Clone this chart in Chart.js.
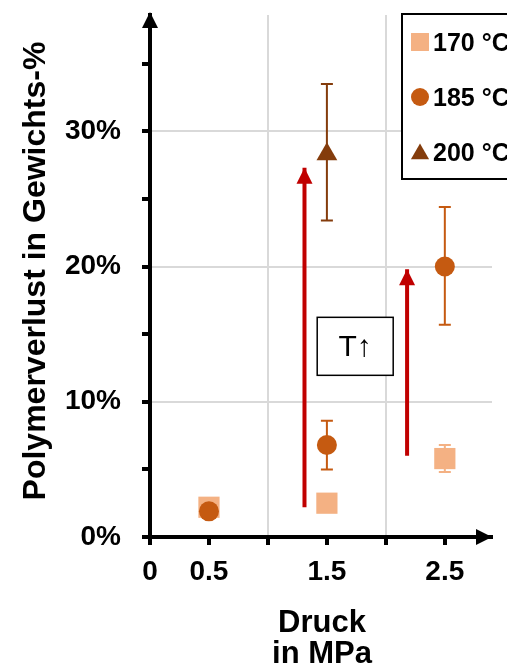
<html>

<head>
    <title>Polymerverlust</title>
    <script src="https://cdn.jsdelivr.net/npm/chart.js@4.4.1/dist/chart.umd.min.js"></script>
</head>

<body style="margin: 0;background: #fff;">
    <canvas id="lossChart" width="507" height="669"></canvas>

    <script>
        // Druck in MPa
        var druck = [0.5, 1.5, 2.5];

        // Polymerverlust in % (null = kein Messpunkt)
        var loss170 = [2.2, 2.5, 5.8];
        var err170Low = [null, null, 4.8];
        var err170High = [null, null, 6.8];

        var loss185 = [1.9, 6.8, 20.0];
        var err185Low = [null, 5.0, 15.7];
        var err185High = [null, 8.6, 24.4];

        var loss200 = [null, 28.3, null];
        var err200Low = [null, 23.4, null];
        var err200High = [null, 33.5, null];

        var seriesLabels = ['170 °C', '185 °C', '200 °C'];

        // rote Pfeile (T steigt)
        var arrowX = [1.31, 2.18];
        var arrowFrom = [2.2, 6.0];
        var arrowTo = [27.3, 19.8];

        var boxLabel = 'T↑';
        var boxX = 1.74;
        var boxY = 14.1;

        var xTickLabels = [0, 0.5, 1.5, 2.5];
        var yTickLabels = [0, 10, 20, 30];

        var c170 = '#f4b183';
        var c185 = '#c55a11';
        var c200 = '#843c0c';
        var cArrow = '#c00000';
        var FONT = '"Liberation Sans", Arial, sans-serif';

        function points(values) {
            var out = [];
            for (let i = 0; i < druck.length; i++) {
                if (values[i] !== null) out.push({ x: druck[i], y: values[i] });
            }
            return out;
        }

        function arrowData(i) {
            return [{ x: arrowX[i], y: arrowFrom[i] }, { x: arrowX[i], y: arrowTo[i] }];
        }

        var extras = {
            id: 'extras',
            beforeDatasetsDraw: function (chart) {
                var ctx = chart.ctx;
                var xs = chart.scales.x, ys = chart.scales.y;
                chart.data.datasets.forEach(function (ds) {
                    if (!ds.errLow) return;
                    ctx.save();
                    ctx.strokeStyle = ds.backgroundColor;
                    ctx.lineWidth = 2;
                    for (let i = 0; i < druck.length; i++) {
                        if (ds.errLow[i] === null) continue;
                        var x = xs.getPixelForValue(druck[i]);
                        var yl = ys.getPixelForValue(ds.errLow[i]);
                        var yh = ys.getPixelForValue(ds.errHigh[i]);
                        ctx.beginPath();
                        ctx.moveTo(x, yl); ctx.lineTo(x, yh);
                        ctx.moveTo(x - 6, yl); ctx.lineTo(x + 6, yl);
                        ctx.moveTo(x - 6, yh); ctx.lineTo(x + 6, yh);
                        ctx.stroke();
                    }
                    ctx.restore();
                });
            },
            afterDraw: function (chart) {
                var ctx = chart.ctx;
                var xs = chart.scales.x, ys = chart.scales.y;
                var area = chart.chartArea;
                ctx.save();

                // Achsenpfeile
                ctx.fillStyle = '#000';
                ctx.beginPath();
                ctx.moveTo(area.left, area.top - 3);
                ctx.lineTo(area.left - 8, area.top + 13);
                ctx.lineTo(area.left + 8, area.top + 13);
                ctx.fill();
                ctx.beginPath();
                ctx.moveTo(area.right, area.bottom);
                ctx.lineTo(area.right - 16, area.bottom - 8);
                ctx.lineTo(area.right - 16, area.bottom + 8);
                ctx.fill();

                // Pfeilspitzen der roten Pfeile
                ctx.fillStyle = cArrow;
                for (let i = 0; i < arrowX.length; i++) {
                    var ax = xs.getPixelForValue(arrowX[i]);
                    var ay = ys.getPixelForValue(arrowTo[i]);
                    ctx.beginPath();
                    ctx.moveTo(ax, ay);
                    ctx.lineTo(ax - 8, ay + 16);
                    ctx.lineTo(ax + 8, ay + 16);
                    ctx.fill();
                }

                // Kasten T↑
                var bx = xs.getPixelForValue(boxX);
                var by = ys.getPixelForValue(boxY);
                ctx.fillStyle = '#fff';
                ctx.fillRect(bx - 38, by - 29, 76, 58);
                ctx.strokeStyle = '#000';
                ctx.lineWidth = 1.5;
                ctx.strokeRect(bx - 38, by - 29, 76, 58);
                ctx.fillStyle = '#000';
                ctx.font = '30px ' + FONT;
                ctx.textAlign = 'center';
                ctx.textBaseline = 'middle';
                ctx.fillText(boxLabel, bx, by + 1);

                // Legende
                ctx.fillStyle = '#fff';
                ctx.fillRect(402, 14, 120, 165);
                ctx.strokeStyle = '#000';
                ctx.lineWidth = 2;
                ctx.strokeRect(402, 14, 120, 165);
                var styles = [['rect', 12.7, c170], ['circle', 9, c185], ['triangle', 10.5, c200]];
                ctx.font = 'bold 25px ' + FONT;
                ctx.textAlign = 'left';
                ctx.textBaseline = 'alphabetic';
                for (let i = 0; i < seriesLabels.length; i++) {
                    var ly = 42 + i * 55;
                    ctx.fillStyle = styles[i][2];
                    Chart.helpers.drawPoint(ctx, { pointStyle: styles[i][0], radius: styles[i][1], borderWidth: 0 }, 420, ly + (i === 2 ? 2 : 0));
                    ctx.fillStyle = '#000';
                    ctx.fillText(seriesLabels[i], 433, ly + 9);
                }

                // Achsentitel
                ctx.fillStyle = '#000';
                ctx.font = 'bold 31px ' + FONT;
                ctx.textAlign = 'center';
                ctx.fillText('Druck', 322, 632);
                ctx.fillText('in MPa', 322, 663);

                ctx.translate(45, 271);
                ctx.rotate(-Math.PI / 2);
                ctx.font = 'bold 32px ' + FONT;
                ctx.fillText('Polymerverlust in Gewichts-%', 0, 0);
                ctx.restore();
            }
        };

        var tickFont = { family: FONT, size: 28, weight: 'bold' };

        var config = {
            type: 'scatter',
            data: {
                datasets: [
                    {
                        label: seriesLabels[0], data: points(loss170), errLow: err170Low, errHigh: err170High,
                        pointStyle: 'rect', pointRadius: 15, backgroundColor: c170, borderWidth: 0, order: 2
                    },
                    {
                        label: seriesLabels[1], data: points(loss185), errLow: err185Low, errHigh: err185High,
                        pointStyle: 'circle', pointRadius: 10, backgroundColor: c185, borderWidth: 0, order: 1
                    },
                    {
                        label: seriesLabels[2], data: points(loss200), errLow: err200Low, errHigh: err200High,
                        pointStyle: 'triangle', pointRadius: 12, backgroundColor: c200, borderWidth: 0, order: 0
                    },
                    {
                        type: 'line', data: arrowData(0), borderColor: cArrow, borderWidth: 4,
                        pointRadius: 0, showLine: true, order: 3
                    },
                    {
                        type: 'line', data: arrowData(1), borderColor: cArrow, borderWidth: 4,
                        pointRadius: 0, showLine: true, order: 3
                    }
                ]
            },
            options: {
                responsive: false,
                animation: false,
                layout: { padding: { top: 3, right: 14, left: 0, bottom: 0 } },
                plugins: { legend: { display: false }, tooltip: { enabled: false } },
                scales: {
                    x: {
                        type: 'linear', min: 0, max: 2.9,
                        afterFit: function (s) { s.height = 132; s.paddingLeft = 0; s.paddingRight = 0; },
                        ticks: {
                            stepSize: 0.5, includeBounds: false, autoSkip: false, maxRotation: 0,
                            padding: 10, color: '#000', font: tickFont,
                            callback: function (v) { return xTickLabels.indexOf(v) >= 0 ? String(v) : ''; }
                        },
                        grid: {
                            color: function (c) { return c.tick && c.tick.value > 0 && c.tick.value % 1 === 0 ? '#d9d9d9' : 'rgba(0,0,0,0)'; },
                            lineWidth: 2, tickColor: '#000', tickWidth: 4, tickLength: 8
                        },
                        border: { color: '#000', width: 4 }
                    },
                    y: {
                        min: 0, max: 38.6,
                        afterFit: function (s) { s.width = 150; s.paddingTop = 0; s.paddingBottom = 0; },
                        ticks: {
                            stepSize: 5, includeBounds: false, autoSkip: false,
                            padding: 21, color: '#000', font: tickFont,
                            callback: function (v) { return yTickLabels.indexOf(v) >= 0 ? v + '%' : ''; }
                        },
                        grid: {
                            color: function (c) { return c.tick && c.tick.value > 0 && c.tick.value % 10 === 0 ? '#d9d9d9' : 'rgba(0,0,0,0)'; },
                            lineWidth: 2, tickColor: '#000', tickWidth: 4, tickLength: 8
                        },
                        border: { color: '#000', width: 4 }
                    }
                }
            },
            plugins: [extras]
        };

        var lossChart = new Chart(document.getElementById('lossChart').getContext('2d'), config);
    </script>
</body>

</html>
